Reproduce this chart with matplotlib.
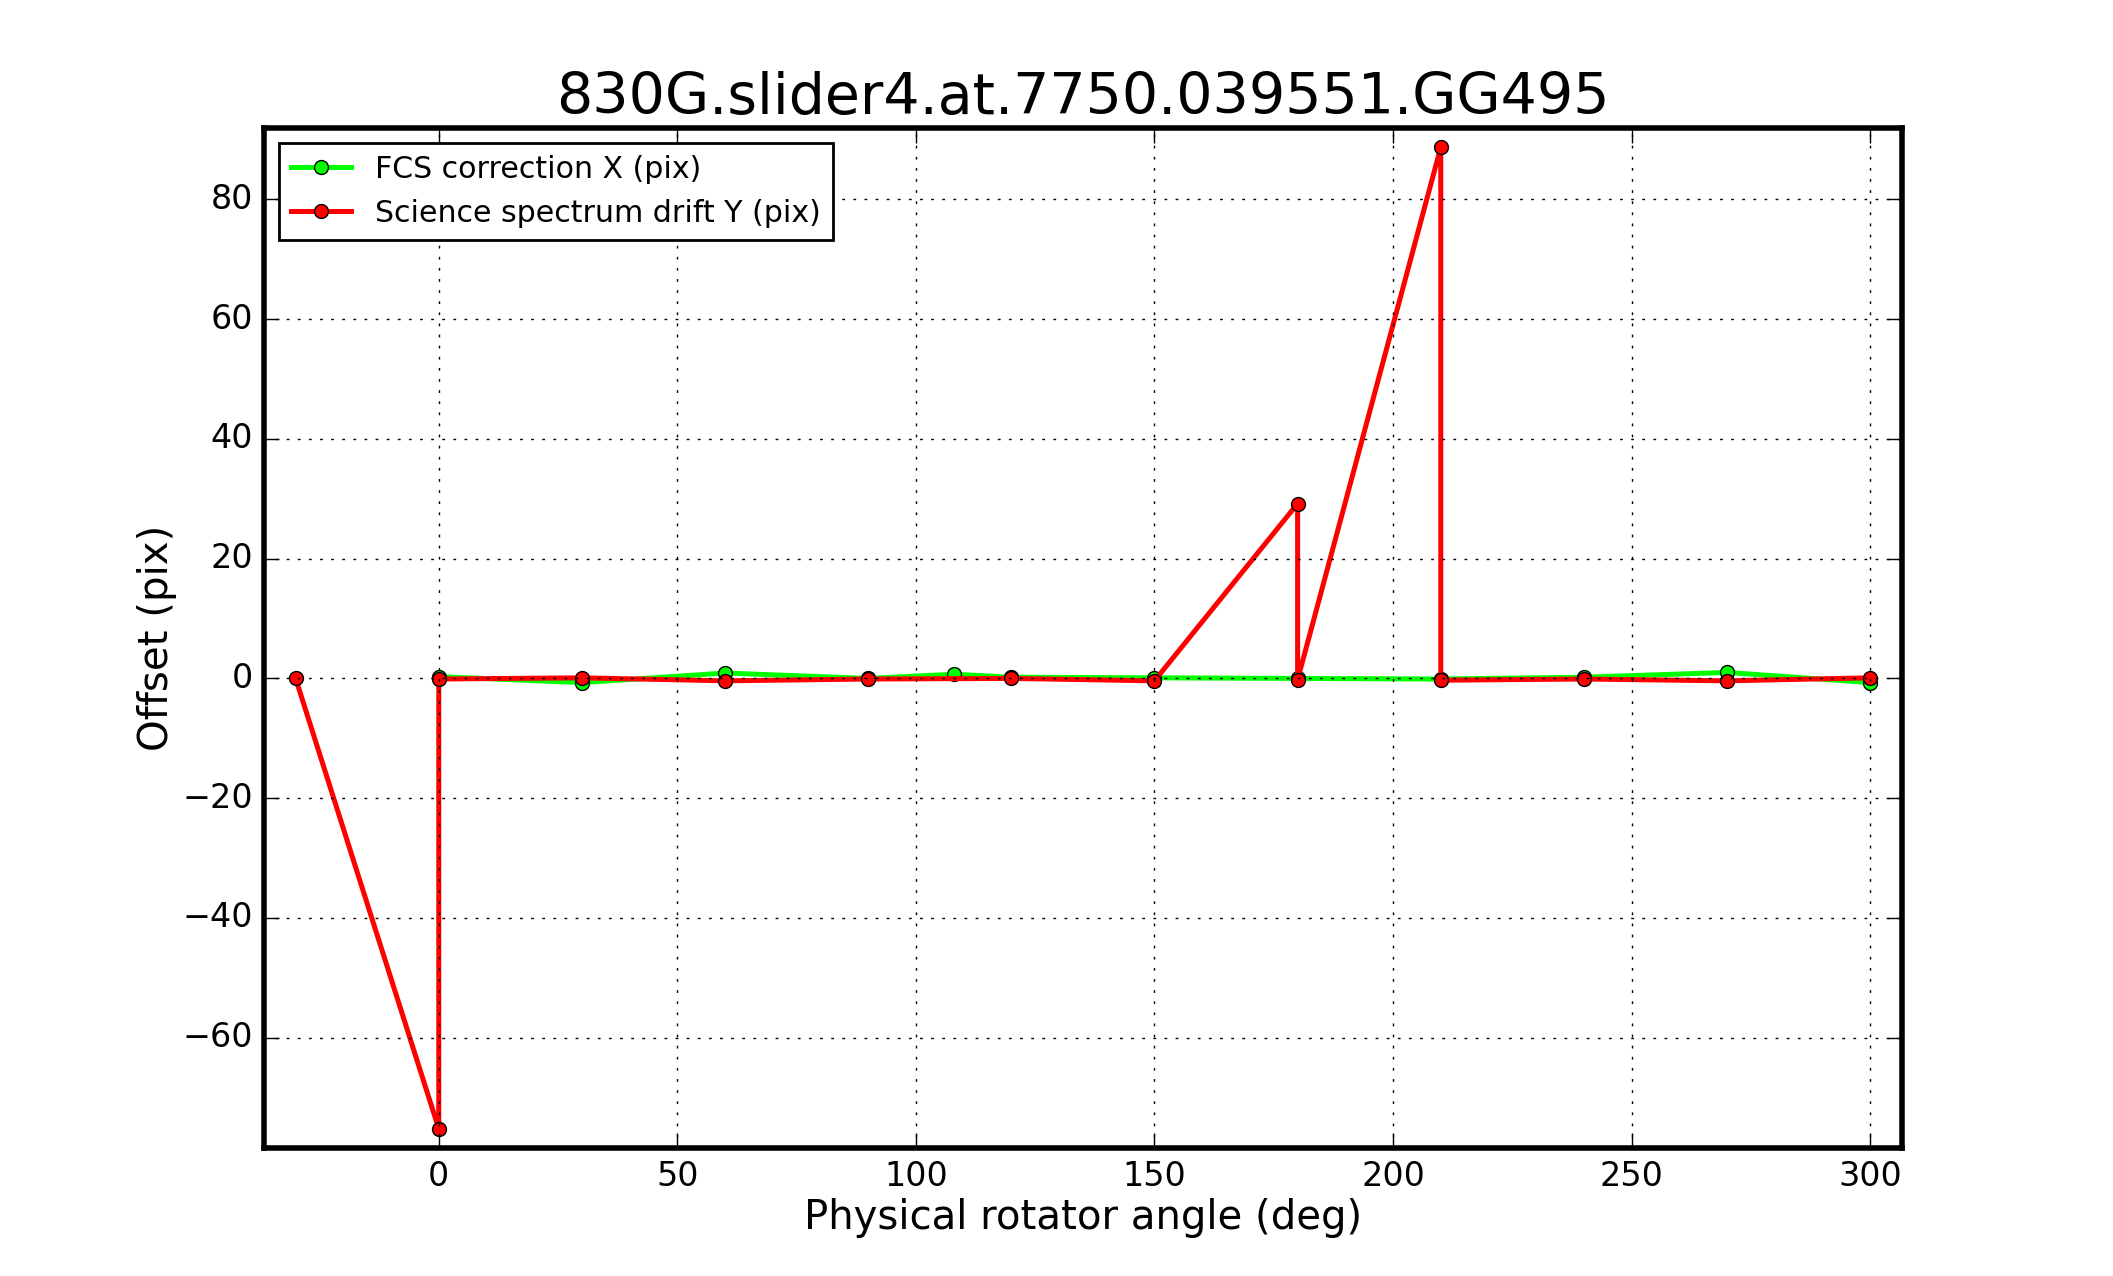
import numpy as np
import matplotlib
matplotlib.use('Agg')
import matplotlib.pyplot as plt

plt.style.use('classic')

# angles / offsets
x_fcs = [0, 30, 60, 90, 108, 120, 150, 180, 210, 240, 270, 300]
y_fcs = [0.3, -0.7, 0.9, 0.0, 0.7, 0.2, 0.1, 0.0, -0.1, 0.2, 1.0, -0.7]

x_sci = [-30, 0, 0, 30, 60, 90, 120, 150, 180, 180, 210, 210, 240, 270, 300]
y_sci = [0.0, -75.2, -0.1, 0.1, -0.4, -0.1, 0.0, -0.4, 29.2, -0.2, 88.7, -0.3, -0.1, -0.4, 0.1]

title = '830G.slider4.at.7750.039551.GG495'

fig = plt.figure(figsize=(10.565, 6.38), dpi=200, facecolor='white')
ax = fig.add_subplot(111)
fig.subplots_adjust(left=0.125, right=0.9, bottom=0.1, top=0.9)

ax.plot(x_fcs, y_fcs, '-o', color='#00ff00', lw=1.8, ms=5, mec='black', mew=0.5,
        label='FCS correction X (pix)')
ax.plot(x_sci, y_sci, '-o', color='#ff0000', lw=1.8, ms=5, mec='black', mew=0.5,
        label='Science spectrum drift Y (pix)')

ax.margins(0.02)
ax.grid(True, linestyle=':', color='black', lw=0.5)
for s in ax.spines.values():
    s.set_linewidth(2)
ax.tick_params(which='major', direction='in', length=5.5, width=0.5, labelsize=12, pad=4)

ax.set_xlabel('Physical rotator angle (deg)', fontsize=14.5, labelpad=2)
ax.set_ylabel('Offset (pix)', fontsize=14.5, labelpad=2)
ax.set_title(title, fontsize=20.5)

leg = ax.legend(loc='upper left', numpoints=1, fontsize=10.8, fancybox=False)
leg.get_frame().set_linewidth(1.0)

fig.savefig('out.png', dpi=200, facecolor='white')
